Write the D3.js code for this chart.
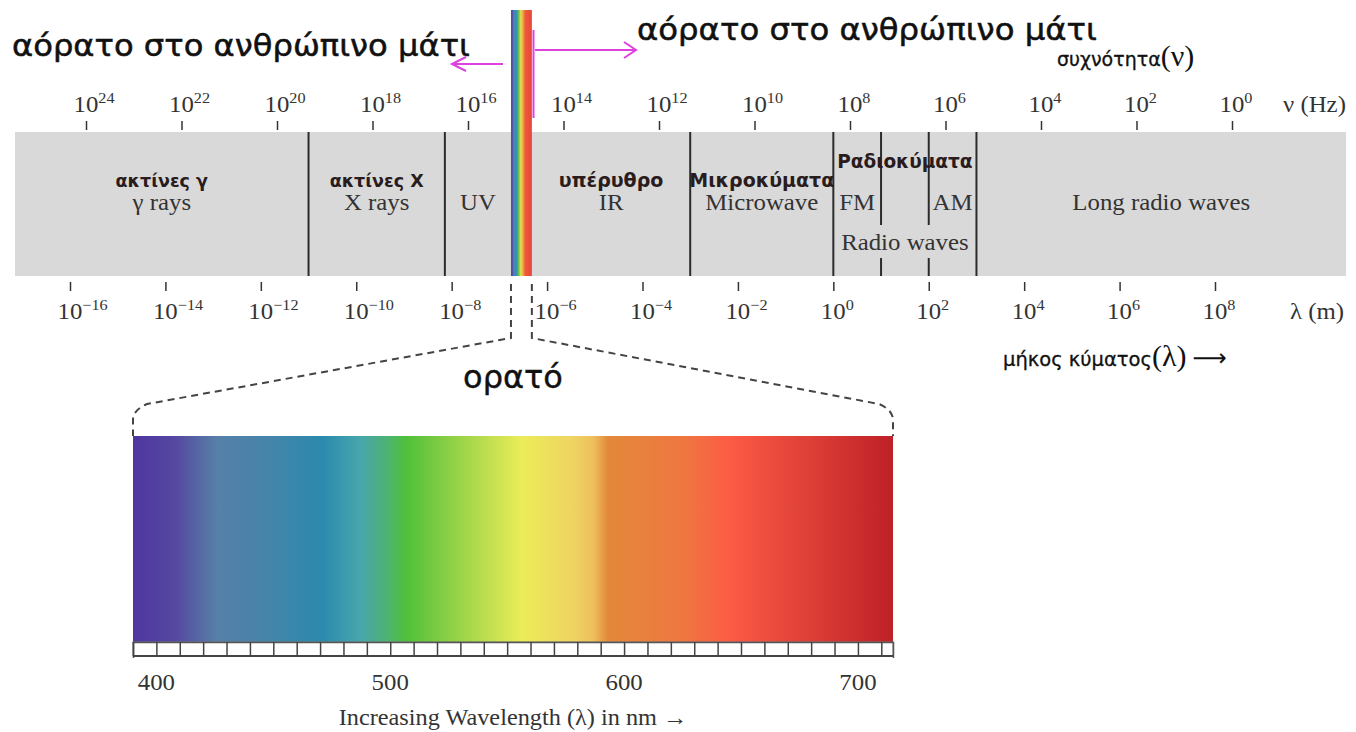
<!DOCTYPE html>
<html><head><meta charset="utf-8">
<script src="https://cdn.jsdelivr.net/npm/d3@7"></script>
<style>body{margin:0;background:#fff}svg{display:block}</style>
</head><body>
<svg id="c" width="1356" height="732"></svg>
<script>
// ---------------- data ----------------
const freqTickExponents = [24,22,20,18,16,14,12,10,8,6,4,2,0];
const waveTickExponents = [-16,-14,-12,-10,-8,-6,-4,-2,0,2,4,6,8];

// bands along the wavelength axis (metres); null = open end of the chart
const bandGreek   = ["ακτίνες γ","ακτίνες X","","υπέρυθρο","Μικροκύματα","Ραδιοκύματα",""];
const bandEnglish = ["γ rays","X rays","UV","IR","Microwave","Radio waves","Long radio waves"];
const bandStart   = [null, 1e-11, 7.2e-9, 4.8e-7, 1e-3, 1, 1e3];
const bandEnd     = [1e-11, 7.2e-9, 1.75e-7, 1e-3, 1, 1e3, null];
const radioSubNames = ["FM","AM"];
const radioSubStart = [1, 100];
const radioSubEnd   = [10, 1000];
const radioSubDividers = [10, 100];
const visibleBand = [1.75e-7, 4.8e-7];

const stripOffsets = [0, 0.07, 0.11, 0.28, 0.37, 0.47, 0.57, 0.68, 1];
const stripColors  = ["#5a4aa8","#5a4aa8","#3a88b0","#3a90b0","#70c048","#e4e04c","#f0a844","#ef5a3a","#e8453a"];

// visible spectrum (nm)
const spectrumDomainNm = [390, 715];
const spectrumStopsNm  = [390,408,426,448,471,487,497,507,533,556,578,587,593,626,645,715];
const spectrumColors   = ["#4f35a0","#5548a0","#5680a8","#4584aa","#2a8aad","#48a6ad","#4cb07c","#50c03a",
                          "#a5d64a","#ebec58","#efd462","#edbf5c","#e3893a","#ef7641","#fc5b45","#be2127"];
const spectrumLabelsNm = [400, 500, 600, 700];
const rulerStepNm = 10;

// ---------------- layout ----------------
const svg = d3.select("#c");
const bandLeft = 15, bandRight = 1346, bandTop = 132, bandBottom = 276;
const lam = d3.scaleLog().domain([1e-16, 1e8]).range([70, 1215]);
const nu  = d3.scaleLog().domain([1e24, 1]).range([86, 1232]);
const SX = 1.08;
const serif = '"Liberation Serif","Times New Roman",serif';
const sans  = '"DejaVu Sans","Noto Sans",sans-serif';
const ink = "#333";

function stext(p, x, y, str, size, anchor = "middle", fill = ink) {
  return p.append("text").attr("transform", `translate(${x},${y}) scale(${SX},1)`)
    .attr("text-anchor", anchor).attr("font-family", serif).attr("font-size", size)
    .attr("fill", fill).text(str);
}
function gtext(p, x, y, str, size, anchor = "middle") {
  return p.append("text").attr("x", x).attr("y", y).attr("text-anchor", anchor)
    .attr("font-family", sans).attr("font-size", size).attr("font-weight", "bold")
    .attr("fill", "#2a1c1c").text(str);
}

// gray band
svg.append("rect").attr("x", bandLeft).attr("y", bandTop)
  .attr("width", bandRight - bandLeft).attr("height", bandBottom - bandTop).attr("fill", "#d9d9d9");

// full-height dividers
const fullDividers = [1e-11, 7.2e-9, 1e-3, 1, 1e3];
svg.selectAll("line.div").data(fullDividers).join("line").attr("class", "div")
  .attr("x1", d => lam(d)).attr("x2", d => lam(d)).attr("y1", bandTop).attr("y2", bandBottom)
  .attr("stroke", "#2b2b2b").attr("stroke-width", 2);
// partial dividers (FM/AM) with gap for "Radio waves"
radioSubDividers.forEach(d => {
  [[bandTop, 225], [258, bandBottom]].forEach(([a, b]) => {
    svg.append("line").attr("x1", lam(d)).attr("x2", lam(d)).attr("y1", a).attr("y2", b)
      .attr("stroke", "#2b2b2b").attr("stroke-width", 2);
  });
});

// band labels
bandEnglish.forEach((en, i) => {
  const x0 = bandStart[i] === null ? bandLeft : lam(bandStart[i]);
  const x1 = bandEnd[i] === null ? bandRight : lam(bandEnd[i]);
  const cx = (x0 + x1) / 2;
  if (en === "Radio waves") {
    gtext(svg, cx, 168, bandGreek[i], 18.5);
    stext(svg, cx, 250, en, 23);
  } else {
    if (bandGreek[i]) gtext(svg, cx, 187, bandGreek[i], en === "IR" || en === "Microwave" ? 19 : 17.5);
    stext(svg, cx, 210, en, 23);
  }
});
radioSubNames.forEach((n, i) => {
  stext(svg, (lam(radioSubStart[i]) + lam(radioSubEnd[i])) / 2, 210, n, 23);
});

// visible strip
const defs = svg.append("defs");
const sg = defs.append("linearGradient").attr("id", "strip").attr("x1", "0").attr("x2", "1").attr("y1", "0").attr("y2", "0");
stripOffsets.forEach((o, i) => sg.append("stop").attr("offset", o).attr("stop-color", stripColors[i]));
svg.append("rect").attr("x", lam(visibleBand[0])).attr("y", 10)
  .attr("width", lam(visibleBand[1]) - lam(visibleBand[0])).attr("height", bandBottom - 10)
  .attr("fill", "url(#strip)");

// top frequency axis
const gTop = svg.append("g").attr("transform", "translate(0,130)")
  .call(d3.axisTop(nu).tickValues(freqTickExponents.map(e => Math.pow(10, e))).tickSize(9).tickFormat(""));
gTop.select(".domain").remove();
gTop.selectAll(".tick line").attr("stroke", ink).attr("stroke-width", 1.5);
gTop.selectAll(".tick").each(function (d) {
  const e = Math.round(Math.log10(d));
  const t = d3.select(this).append("text").attr("transform", `translate(-13,-18) scale(${SX},1)`)
    .attr("text-anchor", "start").attr("font-family", serif).attr("font-size", 23).attr("fill", ink);
  t.append("tspan").text("10");
  t.append("tspan").attr("dy", -9).attr("font-size", 15).text(e < 0 ? "\u2212" + (-e) : e);
});
stext(svg, 1283, 112, "ν (Hz)", 23, "start");

// bottom wavelength axis
const gBot = svg.append("g").attr("transform", "translate(0,282)")
  .call(d3.axisBottom(lam).tickValues(waveTickExponents.map(e => Math.pow(10, e))).tickSize(9).tickFormat(""));
gBot.select(".domain").remove();
gBot.selectAll(".tick line").attr("stroke", ink).attr("stroke-width", 1.5);
gBot.selectAll(".tick").each(function (d) {
  const e = Math.round(Math.log10(d));
  const t = d3.select(this).append("text").attr("transform", `translate(-13,37) scale(${SX},1)`)
    .attr("text-anchor", "start").attr("font-family", serif).attr("font-size", 23).attr("fill", ink);
  t.append("tspan").text("10");
  t.append("tspan").attr("dy", -9).attr("font-size", 15).text(e < 0 ? "\u2212" + (-e) : e);
});
stext(svg, 1290, 319, "λ (m)", 23, "start");

// titles and arrows
const pink = "#e040e0";
[[12, 56, 458], [637, 40, 460]].forEach(([x, y, w]) => {
  svg.append("text").attr("x", x).attr("y", y).attr("font-family", sans).attr("font-size", 30)
    .attr("fill", "#111").attr("stroke", "#111").attr("stroke-width", 0.5)
    .attr("textLength", w).attr("lengthAdjust", "spacingAndGlyphs")
    .text("αόρατο στο ανθρώπινο μάτι");
});
const ar = svg.append("g").attr("stroke", pink).attr("stroke-width", 2).attr("fill", "none");
ar.append("path").attr("d", "M503,64 L452,64 M466,57 L452,64 L466,71");
ar.append("path").attr("d", "M535,50 L636,50 M624,42 L636,50 L624,58");
ar.append("path").attr("d", "M533.5,30 L533.5,118");

// frequency / wavelength captions
const fc = svg.append("text").attr("x", 1057).attr("y", 66).attr("fill", "#111");
fc.append("tspan").attr("font-family", sans).attr("font-size", 19).attr("stroke", "#111").attr("stroke-width", 0.3).text("συχνότητα");
fc.append("tspan").attr("font-family", serif).attr("font-size", 30).text("(ν)");
const wc = svg.append("text").attr("x", 1003).attr("y", 366).attr("fill", "#111");
wc.append("tspan").attr("font-family", sans).attr("font-size", 19.5).attr("stroke", "#111").attr("stroke-width", 0.3).text("μήκος κύματος");
wc.append("tspan").attr("font-family", serif).attr("font-size", 30).text("(λ)");
wc.append("tspan").attr("font-family", sans).attr("font-size", 24).attr("dx", 6).text("⟶");

// visible spectrum panel
const spec = d3.scaleLinear().domain(spectrumDomainNm).range([133, 893]);
const specTop = 436, specBottom = 642, rulerBottom = 656;
const lg = defs.append("linearGradient").attr("id", "spec").attr("x1", "0").attr("x2", "1").attr("y1", "0").attr("y2", "0");
spectrumStopsNm.forEach((n, i) => lg.append("stop")
  .attr("offset", (n - spectrumDomainNm[0]) / (spectrumDomainNm[1] - spectrumDomainNm[0]))
  .attr("stop-color", spectrumColors[i]));
svg.append("rect").attr("x", spec(spectrumDomainNm[0])).attr("y", specTop)
  .attr("width", spec(spectrumDomainNm[1]) - spec(spectrumDomainNm[0])).attr("height", specBottom - specTop)
  .attr("fill", "url(#spec)");

// dashed connector
const xs0 = lam(visibleBand[0]), xs1 = lam(visibleBand[1]);
const sx0 = spec(spectrumDomainNm[0]), sx1 = spec(spectrumDomainNm[1]);
svg.append("path").attr("fill", "none").attr("stroke", "#444").attr("stroke-width", 2).attr("stroke-dasharray", "7,5")
  .attr("d", `M${xs0},284 L${xs0},338 L${sx0 + 14},404 Q${sx0},410 ${sx0},420 L${sx0},${specTop}
              M${xs1},284 L${xs1},338 L${sx1 - 14},404 Q${sx1},410 ${sx1},420 L${sx1},${specTop}`);
svg.append("text").attr("x", 513).attr("y", 388).attr("text-anchor", "middle").attr("font-family", sans)
  .attr("font-size", 32).attr("fill", "#111").attr("stroke", "#111").attr("stroke-width", 0.4).text("ορατό");

// ruler
const rulerTicks = d3.range(spectrumDomainNm[0], spectrumDomainNm[1] + 1, rulerStepNm);
svg.append("rect").attr("x", sx0).attr("y", specBottom).attr("width", sx1 - sx0).attr("height", rulerBottom - specBottom)
  .attr("fill", "#fff").attr("stroke", "#777").attr("stroke-width", 1);
const gR = svg.append("g").attr("transform", `translate(0,${specBottom})`)
  .call(d3.axisBottom(spec).tickValues(rulerTicks).tickSize(rulerBottom - specBottom).tickSizeOuter(rulerBottom - specBottom + 2).tickFormat(""));
gR.select(".domain").attr("stroke", "#555").attr("stroke-width", 1.5);
gR.selectAll(".tick line").attr("stroke", "#444").attr("stroke-width", 1.5);
svg.append("line").attr("x1", sx0).attr("x2", sx1).attr("y1", rulerBottom).attr("y2", rulerBottom)
  .attr("stroke", "#444").attr("stroke-width", 2.2);
spectrumLabelsNm.forEach(n => stext(svg, spec(n), 690, n, 23));
stext(svg, 513, 725, "Increasing Wavelength (λ) in nm →", 22.5);
</script>
</body></html>
